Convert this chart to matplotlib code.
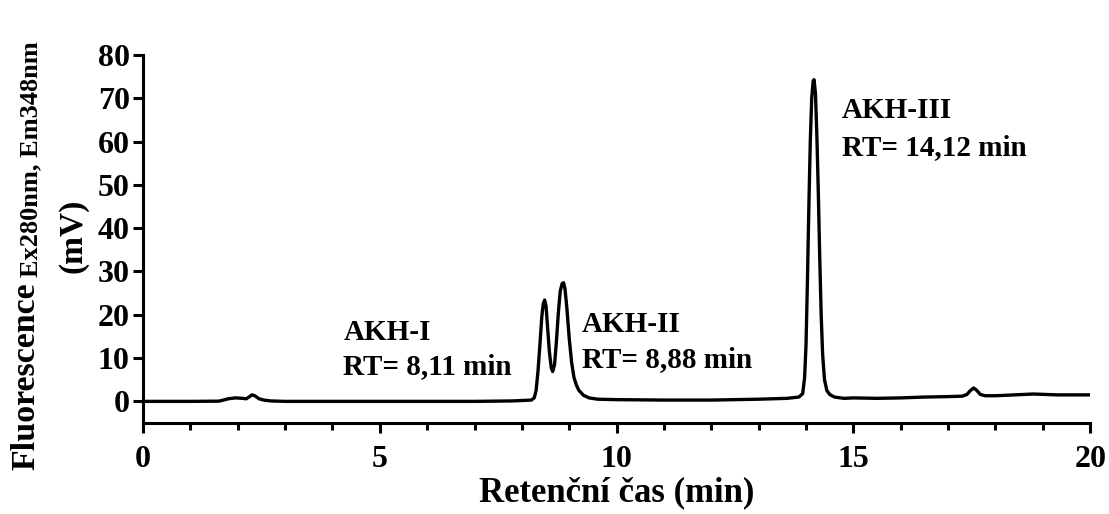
import matplotlib
matplotlib.use("Agg")
import matplotlib.pyplot as plt
from matplotlib.ticker import MultipleLocator

# Retention time (min) and fluorescence signal (mV)
time_min = [0.0, 1.0, 1.6, 1.7, 1.8, 1.95, 2.1, 2.18, 2.25, 2.3, 2.36, 2.45, 2.55, 2.7,
            3.0, 4.0, 5.0, 6.0, 7.0, 7.8, 8.2, 8.26, 8.3, 8.34, 8.38, 8.42, 8.45, 8.48,
            8.51, 8.54, 8.58, 8.62, 8.65, 8.69, 8.73, 8.77, 8.81, 8.85, 8.88, 8.91,
            8.95, 9.0, 9.05, 9.1, 9.15, 9.2, 9.3, 9.42, 9.6, 10.0, 11.0, 12.0, 13.0,
            13.6, 13.85, 13.93, 13.97, 14.0, 14.03, 14.06, 14.09, 14.12, 14.15, 14.17,
            14.2, 14.23, 14.26, 14.29, 14.32, 14.35, 14.39, 14.44, 14.5, 14.6, 14.8,
            15.0, 15.5, 16.0, 16.5, 17.0, 17.3, 17.4, 17.47, 17.54, 17.6, 17.68, 17.78,
            18.0, 18.4, 18.8, 19.3, 20.0]
signal_mv = [0.0, 0.0, 0.05, 0.3, 0.6, 0.8, 0.7, 0.6, 1.1, 1.5, 1.3, 0.6, 0.3, 0.1,
             0.0, 0.0, 0.0, 0.0, 0.0, 0.1, 0.3, 0.8, 2.5, 7.0, 13.0, 19.5, 22.5, 23.4,
             22.0, 17.5, 11.5, 7.8, 6.9, 8.5, 14.0, 20.5, 25.5, 27.2, 27.4, 26.0,
             21.5, 14.5, 9.0, 5.5, 3.8, 2.6, 1.4, 0.8, 0.5, 0.4, 0.3, 0.3, 0.5,
             0.7, 1.0, 1.8, 5.5, 13.0, 28.0, 45.0, 60.0, 70.0, 74.0, 74.3,
             71.0, 61.0, 48.0, 33.0, 20.0, 11.0, 5.0, 2.5, 1.6, 1.0, 0.7,
             0.8, 0.7, 0.8, 1.0, 1.1, 1.2, 1.6, 2.5, 3.1, 2.6, 1.6, 1.3,
             1.3, 1.5, 1.7, 1.5, 1.5]

x_ticks = [0, 5, 10, 15, 20]
y_ticks = [0, 10, 20, 30, 40, 50, 60, 70, 80]

# Peak annotations
peak_names = ["AKH-I", "AKH-II", "AKH-III"]
peak_rt = ["RT= 8,11 min", "RT= 8,88 min", "RT= 14,12 min"]
peak_text_x = [4.23, 9.27, 14.75]
peak_name_y = [14.2, 16.1, 65.4]
peak_rt_y = [6.4, 8.0, 56.9]

plt.rcParams['font.family'] = ['Liberation Serif', 'DejaVu Serif']
plt.rcParams['font.weight'] = 'bold'

fig = plt.figure(figsize=(11.09, 5.14), dpi=100)
ax = fig.add_axes([0.129, 0.177, 0.854, 0.716])

ax.plot(time_min, signal_mv, color='black', lw=2.4, solid_joinstyle='round')

ax.set_xlim(0, 20)
ax.set_ylim(-5, 80)
ax.set_xticks(x_ticks)
ax.set_yticks(y_ticks)
ax.xaxis.set_minor_locator(MultipleLocator(1))
ax.spines['top'].set_visible(False)
ax.spines['right'].set_visible(False)
for s in ['left', 'bottom']:
    ax.spines[s].set_linewidth(2.2)
ax.tick_params(axis='y', which='major', direction='out', length=7.5, width=2.2,
               labelsize=23, pad=2)
ax.tick_params(axis='x', which='major', direction='out', length=7.5, width=2.2,
               labelsize=23, pad=8)
ax.tick_params(axis='x', which='minor', direction='out', length=5, width=2.2)
for lab in ax.get_xticklabels() + ax.get_yticklabels():
    lab.set_fontweight('bold')

ax.set_xlabel("Retenční čas (min)", fontsize=25, fontweight='bold', labelpad=2)

for name, rt, tx, ny, ry in zip(peak_names, peak_rt, peak_text_x, peak_name_y, peak_rt_y):
    ax.text(tx, ny, name, fontsize=21, fontweight='bold', ha='left', va='baseline')
    ax.text(tx, ry, rt, fontsize=21, fontweight='bold', ha='left', va='baseline')

# Y label pieces
fig.text(0.023, 1 - 470 / 514, "Fluorescence", rotation=90, fontsize=24.5,
         fontweight='bold', ha='center', va='bottom')
fig.text(0.028, 1 - 277 / 514, "Ex280nm, Em348nm", rotation=90, fontsize=19,
         fontweight='bold', ha='center', va='bottom')
fig.text(0.066, 1 - 236 / 514, "(mV)", rotation=90, fontsize=24,
         fontweight='bold', ha='center', va='center')

fig.savefig("out.png", dpi=100)
